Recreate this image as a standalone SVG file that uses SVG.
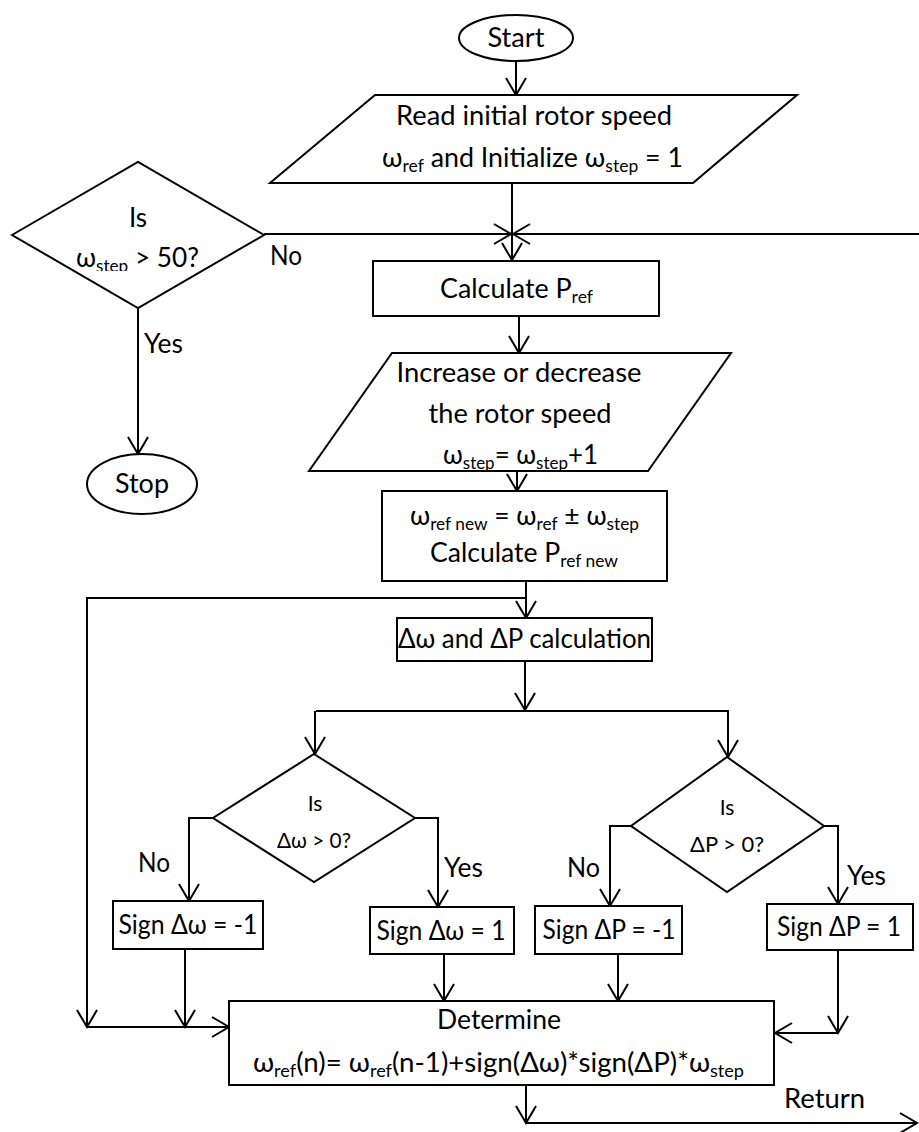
<svg xmlns="http://www.w3.org/2000/svg" width="919" height="1132" viewBox="0 0 919 1132">
  <defs>
    <marker id="arrow" markerUnits="userSpaceOnUse" markerWidth="24" markerHeight="24" viewBox="-20 -12 24 24" refX="0" refY="0" orient="auto" overflow="visible">
      <path d="M-17,-10 L0,0 L-17,10" fill="none" stroke="#000" stroke-width="2"/>
    </marker>
    <!-- the label box of the step test cuts off the lower part of its subscript -->
    <clipPath id="stepClip">
      <rect x="40" y="240" width="200" height="31"/>
    </clipPath>
  </defs>
  <style>
    .shape { fill: #fff; stroke: #000; stroke-width: 2; }
    .line { fill: none; stroke: #000; stroke-width: 2; }
    .arr { fill: none; stroke: #000; stroke-width: 2; marker-end: url(#arrow); }
    text { font-family: Lato, "Open Sans", "Liberation Sans", sans-serif; font-size: 26px; fill: #000; }
    .mid { text-anchor: middle; }
    .small { font-size: 21px; }
    .sub { font-size: 17px; }
  </style>
  <rect width="919" height="1132" fill="#fff"/>

  <!-- connectors -->
  <g id="connectors">
    <path class="arr" d="M516,61 L516,95"/>
    <path class="arr" d="M512,183 L512,260"/>
    <path class="arr" d="M264,234 L511,234"/>
    <path class="arr" d="M919,234 L513,234"/>
    <path class="arr" d="M138,308 L138,454"/>
    <path class="arr" d="M519,316 L519,353"/>
    <path class="arr" d="M517,471 L517,491"/>
    <path class="arr" d="M526,581 L526,618"/>
    <path class="arr" d="M526,598 L87,598 L87,1027"/>
    <path class="arr" d="M87,1027 L229,1027"/>
    <path class="arr" d="M525,661 L525,710"/>
    <path class="line" d="M316,711 L729,711"/>
    <path class="arr" d="M315,711 L315,754"/>
    <path class="arr" d="M728,711 L728,757"/>
    <path class="arr" d="M214,818 L189,818 L189,901"/>
    <path class="arr" d="M415,818 L438,818 L438,907"/>
    <path class="arr" d="M631,826 L610,826 L610,906"/>
    <path class="arr" d="M824,826 L838,826 L838,904"/>
    <path class="arr" d="M185,949 L185,1027"/>
    <path class="arr" d="M444,954 L444,1001"/>
    <path class="arr" d="M618,954 L618,1001"/>
    <path class="arr" d="M838,950 L838,1033"/>
    <path class="arr" d="M838,1033 L775,1033"/>
    <path class="arr" d="M526,1085 L526,1123"/>
    <path class="arr" d="M526,1123 L917,1123"/>
  </g>

  <!-- branch labels -->
  <g id="labels">
    <text x="270" y="265" textLength="32" lengthAdjust="spacingAndGlyphs">No</text>
    <text x="144" y="353" textLength="39" lengthAdjust="spacingAndGlyphs">Yes</text>
    <text x="138" y="872" textLength="32" lengthAdjust="spacingAndGlyphs">No</text>
    <text x="444" y="877" textLength="39" lengthAdjust="spacingAndGlyphs">Yes</text>
    <text x="567" y="877" textLength="33" lengthAdjust="spacingAndGlyphs">No</text>
    <text x="847" y="885" textLength="39" lengthAdjust="spacingAndGlyphs">Yes</text>
    <text x="784" y="1108" textLength="81" lengthAdjust="spacingAndGlyphs">Return</text>
  </g>

  <g id="start">
    <ellipse class="shape" cx="516" cy="38" rx="57" ry="23"/>
    <text class="mid" x="516" y="47" textLength="57" lengthAdjust="spacingAndGlyphs">Start</text>
  </g>

  <g id="read-speed">
    <polygon class="shape" points="375,95 797,95 693,183 270,183"/>
    <text class="mid" x="534" y="125" textLength="276" lengthAdjust="spacingAndGlyphs">Read initial rotor speed</text>
    <text x="382" y="167" textLength="301" lengthAdjust="spacingAndGlyphs">ω<tspan class="sub" dy="5">ref</tspan><tspan dy="-5"> and Initialize ω</tspan><tspan class="sub" dy="5">step</tspan><tspan dy="-5"> = 1</tspan></text>
  </g>

  <g id="check-step">
    <polygon class="shape" points="12,235 138,162 264,235 138,308"/>
    <text class="mid" x="138" y="227">Is</text>
    <text x="76" y="267" textLength="123" lengthAdjust="spacingAndGlyphs" clip-path="url(#stepClip)">ω<tspan class="sub" dy="5">step</tspan><tspan dy="-5"> &gt; 50?</tspan></text>
  </g>

  <g id="stop">
    <ellipse class="shape" cx="142" cy="484" rx="55" ry="30"/>
    <text class="mid" x="142" y="493" textLength="54" lengthAdjust="spacingAndGlyphs">Stop</text>
  </g>

  <g id="calc-pref">
    <rect class="shape" x="373" y="261" width="286" height="55"/>
    <text x="440" y="298" textLength="153" lengthAdjust="spacingAndGlyphs">Calculate P<tspan class="sub" dy="5">ref</tspan></text>
  </g>

  <g id="adjust-speed">
    <polygon class="shape" points="392,353 731,353 648,471 309,471"/>
    <text class="mid" x="519" y="382" textLength="245" lengthAdjust="spacingAndGlyphs">Increase or decrease</text>
    <text class="mid" x="520" y="423" textLength="183" lengthAdjust="spacingAndGlyphs">the rotor speed</text>
    <text x="443" y="464" textLength="155" lengthAdjust="spacingAndGlyphs">ω<tspan class="sub" dy="5">step</tspan><tspan dy="-5">= ω</tspan><tspan class="sub" dy="5">step</tspan><tspan dy="-5">+1</tspan></text>
  </g>

  <g id="new-ref">
    <rect class="shape" x="382" y="491" width="285" height="90"/>
    <text x="410" y="525" textLength="229" lengthAdjust="spacingAndGlyphs">ω<tspan class="sub" dy="5">ref new</tspan><tspan dy="-5"> = ω</tspan><tspan class="sub" dy="5">ref</tspan><tspan dy="-5"> ± ω</tspan><tspan class="sub" dy="5">step</tspan></text>
    <text x="430" y="562" textLength="188" lengthAdjust="spacingAndGlyphs">Calculate P<tspan class="sub" dy="5">ref new</tspan></text>
  </g>

  <g id="delta-calc">
    <rect class="shape" x="397" y="618" width="255" height="43"/>
    <text x="398" y="648" textLength="253" lengthAdjust="spacingAndGlyphs">Δω and ΔP calculation</text>
  </g>

  <g id="check-dw">
    <polygon class="shape" points="314,754 415,818 314,882 213,818"/>
    <text class="mid small" x="315" y="811">Is</text>
    <text class="mid small" x="314" y="848" textLength="74" lengthAdjust="spacingAndGlyphs">Δω &gt; 0?</text>
  </g>

  <g id="check-dp">
    <polygon class="shape" points="727,757 824,826 727,892 631,826"/>
    <text class="mid small" x="727" y="815">Is</text>
    <text class="mid small" x="727" y="852" textLength="74" lengthAdjust="spacingAndGlyphs">ΔP &gt; 0?</text>
  </g>

  <g id="sign-dw-neg">
    <rect class="shape" x="113" y="901" width="150" height="48"/>
    <text class="mid" x="188" y="934" textLength="139" lengthAdjust="spacingAndGlyphs">Sign Δω = -1</text>
  </g>

  <g id="sign-dw-pos">
    <rect class="shape" x="370" y="907" width="144" height="47"/>
    <text class="mid" x="441" y="940" textLength="129" lengthAdjust="spacingAndGlyphs">Sign Δω = 1</text>
  </g>

  <g id="sign-dp-neg">
    <rect class="shape" x="535" y="906" width="147" height="48"/>
    <text class="mid" x="609" y="939" textLength="133" lengthAdjust="spacingAndGlyphs">Sign ΔP = -1</text>
  </g>

  <g id="sign-dp-pos">
    <rect class="shape" x="767" y="904" width="146" height="46"/>
    <text class="mid" x="839" y="936" textLength="124" lengthAdjust="spacingAndGlyphs">Sign ΔP = 1</text>
  </g>

  <g id="determine">
    <rect class="shape" x="229" y="1001" width="545" height="84"/>
    <text class="mid" x="499" y="1029" textLength="124" lengthAdjust="spacingAndGlyphs">Determine</text>
    <text x="253" y="1072" textLength="491" lengthAdjust="spacingAndGlyphs">ω<tspan class="sub" dy="5">ref</tspan><tspan dy="-5">(n)= ω</tspan><tspan class="sub" dy="5">ref</tspan><tspan dy="-5">(n-1)+sign(Δω)*sign(ΔP)*ω</tspan><tspan class="sub" dy="5">step</tspan></text>
  </g>
</svg>
